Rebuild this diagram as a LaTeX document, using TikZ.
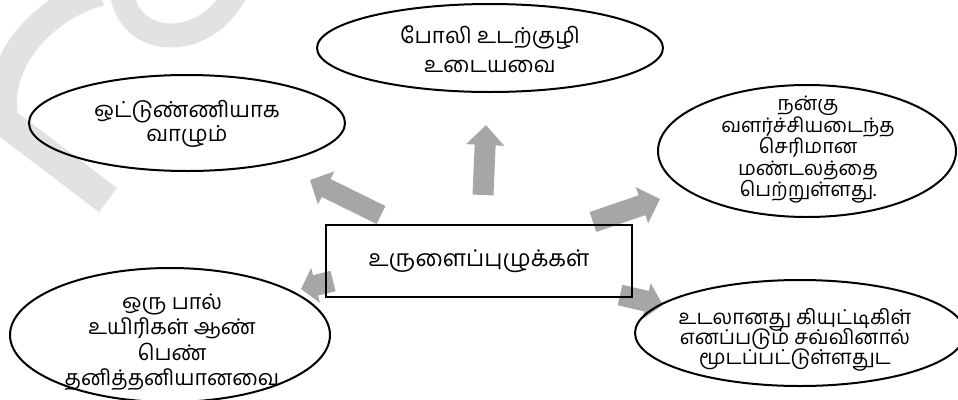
\documentclass[tikz,border=0pt]{standalone}
\usepackage{fontspec}
\newfontfamily\tam[Script=Tamil]{Hind Madurai}
\usetikzlibrary{shapes.geometric,arrows.meta}
\definecolor{arrowgrey}{RGB}{166,166,166}
\definecolor{wmgrey}{RGB}{226,226,226}
\newcommand\tsz[2]{\tam\fontsize{#1}{#2}\selectfont\lineskiplimit=-60pt}
\tikzset{
  oval/.style={ellipse, draw=black, line width=2pt, inner sep=0pt},
  txt/.style={align=center, font=\tam, inner sep=0pt},
  bigarrow/.style={draw=arrowgrey, line cap=butt, line width=#1},
  wm/.style={draw=wmgrey, line cap=butt, line width=#1},
}
\begin{document}
\begin{tikzpicture}[x=1pt,y=-1pt]
\useasboundingbox (0,0) rectangle (958,399);
% watermark (faint)
\draw[wm=30] (5,122) -- (108,200);
\draw[wm=28] (8,130) .. controls (-14,70) and (40,8) .. (100,-8);
\draw[wm=24] (122,-8) .. controls (128,48) and (205,52) .. (236,-8);
% arrows
\coordinate (u1) at (483,195); \coordinate (u2) at (486,125);
\coordinate (ul1) at (381,215); \coordinate (ul2) at (310,180);
\coordinate (ur1) at (593,222); \coordinate (ur2) at (660,199);
\coordinate (ll1) at (333,281); \coordinate (ll2) at (301,289);
\coordinate (lr1) at (620,295); \coordinate (lr2) at (663,305);
\draw[bigarrow=21pt, -{Triangle[width=37pt,length=20pt]}, arrowgrey] (u1) -- (u2);
\draw[bigarrow=20pt, -{Triangle[width=36pt,length=18pt]}, arrowgrey] (ul1) -- (ul2);
\draw[bigarrow=21pt, -{Triangle[width=37pt,length=19pt]}, arrowgrey] (ur1) -- (ur2);
\draw[bigarrow=21pt, -{Triangle[width=35pt,length=15pt]}, arrowgrey] (ll1) -- (ll2);
\draw[bigarrow=21pt, -{Triangle[width=36pt,length=17pt]}, arrowgrey] (lr1) -- (lr2);
% ellipses
\node[oval, minimum width=346pt, minimum height=88pt] (top) at (490,48) {};
\node[txt, font=\tsz{22}{29}] (topt) at (490,49) {போலி உடற்குழி\\உடையவை};
\node[oval, minimum width=316pt, minimum height=96pt] (lt) at (187,123) {};
\node[txt, font=\tsz{22}{24}] (ltt) at (187,124) {ஒட்டுண்ணியாக\\வாழும்};
\node[oval, minimum width=298pt, minimum height=132pt] (rt) at (807,151) {};
\node[txt, font=\tsz{20}{21.5}] (rtt) at (808,150) {நன்கு\\வளர்ச்சியடைந்த\\செரிமான\\மண்டலத்தை\\பெற்றுள்ளது.};
\node[oval, minimum width=320pt, minimum height=134pt] (lb) at (170,335) {};
\node[txt, font=\tsz{21.5}{25.5}] (lbt) at (172,342) {ஒரு பால்\\உயிரிகள் ஆண்\\பெண்\\தனித்தனியானவை};
\node[oval, minimum width=330pt, minimum height=106pt] (rb) at (800,333) {};
\node[txt, font=\tsz{20.5}{20}] (rbt) at (795,340) {உடலானது கியுட்டிகிள்\\எனப்படும் சவ்வினால்\\மூடப்பட்டுள்ளதுட};
% centre box
\node[draw=black, line width=2.5pt, minimum width=306pt, minimum height=72pt, font=\tsz{23}{28}] (box) at (479,261) {உருளைப்புழுக்கள்};
\end{tikzpicture}
\end{document}
